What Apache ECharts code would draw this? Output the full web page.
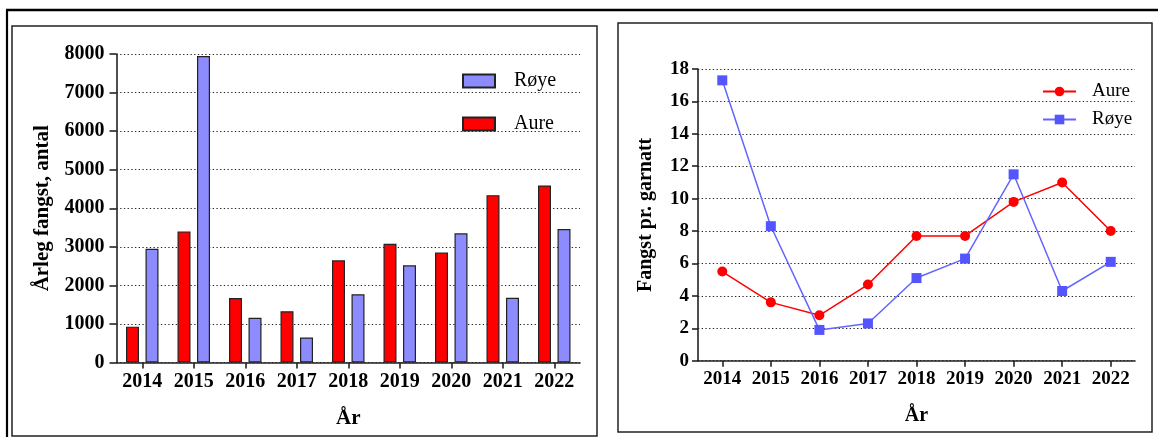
<!DOCTYPE html>
<html>
<head>
<meta charset="utf-8">
<script src="https://cdn.jsdelivr.net/npm/echarts@6/dist/echarts.min.js"></script>
<style>
html,body{margin:0;padding:0;background:#fff;}
#c{width:1158px;height:437px;}
</style>
</head>
<body>
<div id="c"></div>
<script>
// ---- data ----
const years = ['2014','2015','2016','2017','2018','2019','2020','2021','2022'];
const aureAntal = [930, 3400, 1670, 1330, 2650, 3080, 2850, 4340, 4590];
const royeAntal = [2950, 7950, 1160, 650, 1770, 2520, 3350, 1680, 3460];
const aurePerGarnatt = [5.5, 3.6, 2.8, 4.7, 7.7, 7.7, 9.8, 11.0, 8.0];
const royePerGarnatt = [17.3, 8.3, 1.9, 2.3, 5.1, 6.3, 11.5, 4.3, 6.1];

const FONT = '"Liberation Serif", "Times New Roman", serif';
const chart = echarts.init(document.getElementById('c'), null, {renderer: 'canvas'});

const gridDots = {show: true, lineStyle: {type: [1.3, 2.4], color: '#222', width: 1.2}};
const axisLineStyle = {show: true, lineStyle: {color: '#222', width: 1.6}};

function catAxis(gridIndex, fs, nameGap) {
  return {
    type: 'category', gridIndex: gridIndex, data: years, boundaryGap: true,
    axisLine: axisLineStyle,
    axisTick: {show: true, alignWithLabel: true, interval: 0, length: 6, lineStyle: {color: '#222', width: 1.6}},
    axisLabel: {interval: 0, fontFamily: FONT, fontWeight: 'bold', fontSize: fs, color: '#000', margin: 9},
    name: 'År', nameLocation: 'middle', nameGap: nameGap,
    nameTextStyle: {fontFamily: FONT, fontWeight: 'bold', fontSize: fs + 1, color: '#000'},
    splitLine: {show: false}
  };
}

const plain = function (v) { return String(v); };

const option = {
  animation: false,
  backgroundColor: '#fff',
  graphic: [
    {type: 'line', shape: {x1: 6, y1: 10, x2: 1158, y2: 10}, style: {stroke: '#000', lineWidth: 2.6}},
    {type: 'line', shape: {x1: 7, y1: 10, x2: 7, y2: 437}, style: {stroke: '#000', lineWidth: 2.2}},
    {type: 'rect', shape: {x: 12, y: 26, width: 585, height: 410}, style: {fill: 'none', stroke: '#222', lineWidth: 1.5}},
    {type: 'rect', shape: {x: 618, y: 23, width: 534, height: 409}, style: {fill: 'none', stroke: '#222', lineWidth: 1.5}}
  ],
  grid: [
    {left: 116.5, top: 54, width: 463.5, height: 308.5},
    {left: 698, top: 69, width: 437, height: 291.7}
  ],
  legend: [
    {
      data: ['Røye', 'Aure'], orient: 'vertical', left: 462, top: 71, padding: 0,
      itemWidth: 32, itemHeight: 13, itemGap: 23, icon: 'rect',
      textStyle: {fontFamily: FONT, fontSize: 20, color: '#000', padding: [0, 0, 0, 14]},
      selectedMode: false
    },
    {
      data: ['Aure|linje', 'Røye|linje'], orient: 'vertical', left: 1042, top: 82, padding: 0,
      itemWidth: 33, itemHeight: 12, itemGap: 9,
      formatter: function (n) { return n.split('|')[0]; },
      textStyle: {fontFamily: FONT, fontSize: 19, color: '#000', padding: [0, 0, 0, 11]},
      selectedMode: false
    }
  ],
  xAxis: [catAxis(0, 20, 46), catAxis(1, 19, 45)],
  yAxis: [
    {
      type: 'value', gridIndex: 0, min: 0, max: 8000, interval: 1000,
      axisLine: axisLineStyle,
      axisTick: {show: true, length: 7, lineStyle: {color: '#222', width: 1.6}},
      axisLabel: {formatter: plain, fontFamily: FONT, fontWeight: 'bold', fontSize: 20, color: '#000', margin: 12},
      splitLine: gridDots,
      name: 'Årleg fangst, antal', nameLocation: 'middle', nameGap: 63,
      nameTextStyle: {fontFamily: FONT, fontWeight: 'bold', fontSize: 21, color: '#000'}
    },
    {
      type: 'value', gridIndex: 1, min: 0, max: 18, interval: 2,
      axisLine: axisLineStyle,
      axisTick: {show: true, length: 6, lineStyle: {color: '#222', width: 1.6}},
      axisLabel: {formatter: plain, fontFamily: FONT, fontWeight: 'bold', fontSize: 19, color: '#000', margin: 9},
      splitLine: gridDots,
      name: 'Fangst pr. garnatt', nameLocation: 'middle', nameGap: 42,
      nameTextStyle: {fontFamily: FONT, fontWeight: 'bold', fontSize: 20, color: '#000'}
    }
  ],
  series: [
    {
      name: 'Aure', type: 'bar', xAxisIndex: 0, yAxisIndex: 0, data: aureAntal,
      barWidth: 13, barGap: '50%',
      itemStyle: {color: '#ff0000', borderColor: '#222', borderWidth: 1.2}
    },
    {
      name: 'Røye', type: 'bar', xAxisIndex: 0, yAxisIndex: 0, data: royeAntal,
      barWidth: 13, barGap: '50%',
      itemStyle: {color: '#8c8cff', borderColor: '#222', borderWidth: 1.2}
    },
    {
      name: 'Aure|linje', type: 'line', xAxisIndex: 1, yAxisIndex: 1, data: aurePerGarnatt,
      symbol: 'circle', symbolSize: 10,
      lineStyle: {color: '#ff0000', width: 1.5},
      itemStyle: {color: '#ff0000'}
    },
    {
      name: 'Røye|linje', type: 'line', xAxisIndex: 1, yAxisIndex: 1, data: royePerGarnatt,
      symbol: 'rect', symbolSize: 10,
      lineStyle: {color: '#6464ff', width: 1.5},
      itemStyle: {color: '#5555ff'}
    }
  ]
};
chart.setOption(option);
</script>
</body>
</html>
